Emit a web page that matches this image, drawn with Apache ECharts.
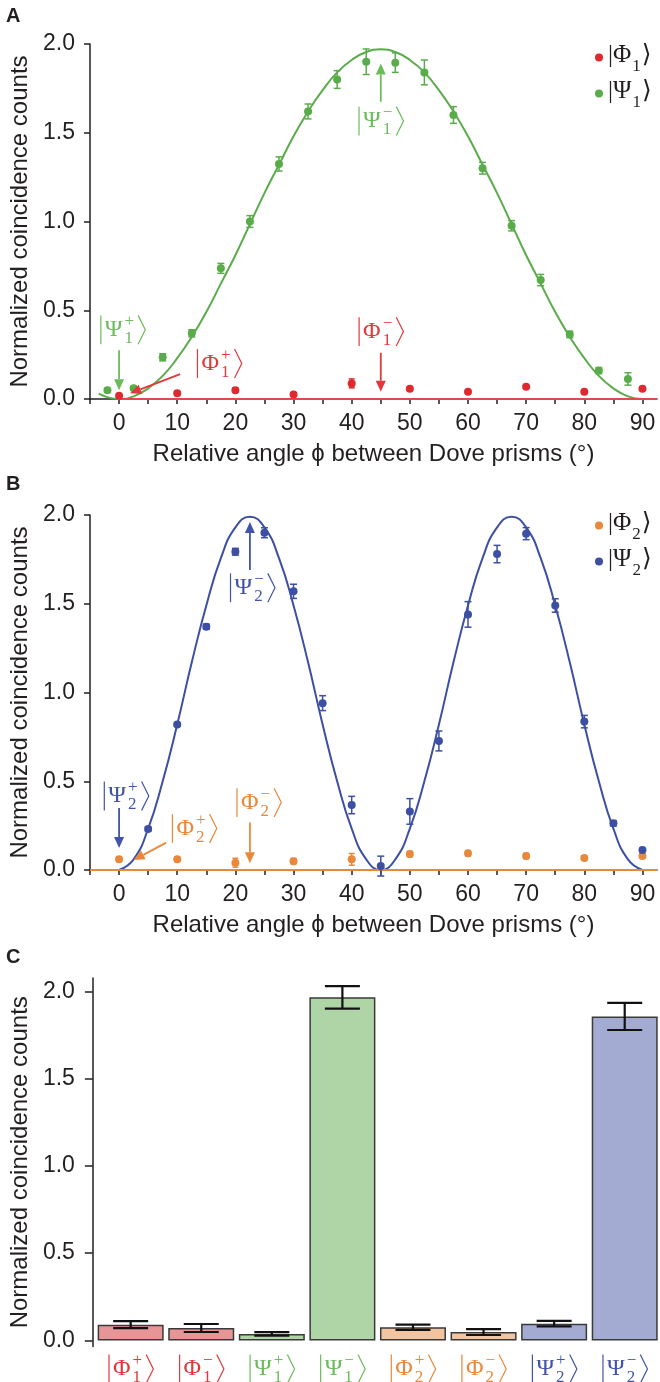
<!DOCTYPE html>
<html>
<head>
<meta charset="utf-8">
<script src="https://cdn.jsdelivr.net/npm/echarts@6/dist/echarts.min.js"></script>
<style>
html, body { margin: 0; padding: 0; background: #fff; }
#chart { width: 660px; height: 1382px; }
</style>
</head>
<body>
<div id="chart"></div>
<script>
// axis ticks
const angleTicks = [-5, 0, 5, 10, 15, 20, 25, 30, 35, 40, 45, 50, 55, 60, 65, 70, 75, 80, 85, 90];
const angleLabels = [0, 10, 20, 30, 40, 50, 60, 70, 80, 90];
const countTicks = [0, 0.5, 1, 1.5, 2];

// panel A
const psi1Angles = [-2, 2.5, 7.5, 12.5, 17.5, 22.5, 27.5, 32.5, 37.5, 42.5, 47.5, 52.5, 57.5, 62.5, 67.5, 72.5, 77.5, 82.5, 87.5];
const psi1Counts = [0.05, 0.06, 0.235, 0.37, 0.736, 1.0, 1.324, 1.62, 1.8, 1.9, 1.895, 1.84, 1.6, 1.3, 0.976, 0.67, 0.364, 0.16, 0.113];
const psi1Errors = [0.01, 0.01, 0.02, 0.02, 0.028, 0.033, 0.04, 0.042, 0.05, 0.072, 0.055, 0.07, 0.047, 0.033, 0.029, 0.032, 0.018, 0.017, 0.035];
const phi1Angles = [0, 10, 20, 30, 40, 50, 60, 70, 80, 90];
const phi1Counts = [0.019, 0.032, 0.05, 0.026, 0.088, 0.058, 0.041, 0.069, 0.041, 0.058];
const phi1Errors = [0.006, 0.008, 0.012, 0.008, 0.025, 0.01, 0.008, 0.008, 0.008, 0.008];
const fit1Angles = [-3.5, 0, 2.5, 5, 7.5, 10, 12.5, 15, 17.5, 20, 22.5, 25, 27.5, 30, 32.5, 35, 37.5, 40, 42.5, 45,
  47.5, 50, 52.5, 55, 57.5, 60, 62.5, 65, 67.5, 70, 72.5, 75, 77.5, 80, 82.5, 85, 87.5, 90];
const fit1Counts = [0.03, 0, 0.015, 0.06, 0.13, 0.23, 0.35, 0.49, 0.65, 0.81, 0.985, 1.16, 1.32, 1.48, 1.62, 1.74, 1.84, 1.91, 1.955, 1.97,
  1.955, 1.91, 1.84, 1.74, 1.62, 1.48, 1.32, 1.16, 0.985, 0.81, 0.65, 0.49, 0.35, 0.23, 0.13, 0.06, 0.015, 0];
const phi1FitAngles = [0, 92.5];
const phi1FitCounts = [0, 0];

// panel B
const psi2Angles = [5, 10, 15, 20, 25, 30, 35, 40, 45, 50, 55, 60, 65, 70, 75, 80, 85, 90];
const psi2Counts = [0.231, 0.82, 1.371, 1.793, 1.9, 1.57, 0.94, 0.366, 0.022, 0.33, 0.727, 1.44, 1.78, 1.895, 1.49, 0.836, 0.263, 0.113];
const psi2Errors = [0.01, 0.01, 0.014, 0.019, 0.028, 0.04, 0.042, 0.049, 0.056, 0.072, 0.056, 0.072, 0.049, 0.034, 0.038, 0.035, 0.015, 0.008];
const phi2Angles = [0, 10, 20, 30, 40, 50, 60, 70, 80, 90];
const phi2Counts = [0.06, 0.06, 0.041, 0.05, 0.06, 0.09, 0.094, 0.079, 0.067, 0.079];
const phi2Errors = [0.012, 0.012, 0.025, 0.015, 0.033, 0.015, 0.015, 0.015, 0.012, 0.012];
const fit2Angles = [0, 2.5, 5, 7.5, 10, 12.5, 15, 17.5, 20, 22.5, 25, 27.5, 30, 32.5, 35, 37.5, 40, 42.5, 45,
  47.5, 50, 52.5, 55, 57.5, 60, 62.5, 65, 67.5, 70, 72.5, 75, 77.5, 80, 82.5, 85, 87.5, 90];
const fit2Counts = [0, 0.06, 0.233, 0.5, 0.82, 1.17, 1.49, 1.757, 1.93, 1.99, 1.93, 1.757, 1.49, 1.17, 0.82, 0.5, 0.233, 0.06, 0,
  0.06, 0.233, 0.5, 0.82, 1.17, 1.49, 1.757, 1.93, 1.99, 1.93, 1.757, 1.49, 1.17, 0.82, 0.5, 0.233, 0.06, 0];
const phi2FitAngles = [-5, 92.5];
const phi2FitCounts = [0, 0];

// panel C
const stateNames = ['Φ1+', 'Φ1−', 'Ψ1+', 'Ψ1−', 'Φ2+', 'Φ2−', 'Ψ2+', 'Ψ2−'];
const stateCounts = [0.09, 0.071, 0.037, 1.966, 0.075, 0.048, 0.096, 1.857];
const stateErrors = [0.02, 0.023, 0.01, 0.064, 0.015, 0.017, 0.016, 0.078];

const RED = '#de2a2e';
const GREEN = '#5aac4a';
const ORANGE = '#e9883a';
const BLUE = '#3d4fa3';
const INK = '#231f20';
const SANS = '"Liberation Sans", Arial, sans-serif';
const SERIF = '"Liberation Serif", "DejaVu Serif", "DejaVu Sans", serif';
const barFill = { '1Φ': '#e89598', '1Ψ': '#afd5a6', '2Φ': '#f2c4a0', '2Ψ': '#a3abd3' };
const stateColor = { '1Φ': '#e0383b', '1Ψ': '#6dbb5c', '2Φ': '#e9883a', '2Ψ': '#4254a8' };

const chart = echarts.init(document.getElementById('chart'));

function zip (xs, ys) {
    return xs.map((x, i) => [x, ys[i]])
}

function errorBars (idx, xs, ys, es, color, capW, lw) {
    return {
        type: 'custom',
        xAxisIndex: idx,
        yAxisIndex: idx,
        silent: true,
        z: 3,
        data: xs.map((x, i) => [x, ys[i] - es[i], ys[i] + es[i]]),
        encode: { x: 0, y: [1, 2] },
        renderItem (params, api) {
            const lo = api.coord([api.value(0), api.value(1)])
            const hi = api.coord([api.value(0), api.value(2)])
            const h = capW / 2
            const st = { stroke: color, lineWidth: lw }
            return {
                type: 'group',
                children: [
                    { type: 'line', shape: { x1: lo[0], y1: lo[1], x2: hi[0], y2: hi[1] }, style: st },
                    { type: 'line', shape: { x1: lo[0] - h, y1: lo[1], x2: lo[0] + h, y2: lo[1] }, style: st },
                    { type: 'line', shape: { x1: hi[0] - h, y1: hi[1], x2: hi[0] + h, y2: hi[1] }, style: st }
                ]
            }
        }
    }
}

function angleAxis (idx) {
    return {
        type: 'value', gridIndex: idx, min: -5, max: 92.5,
        name: 'Relative angle ϕ between Dove prisms (°)',
        nameLocation: 'middle', nameGap: 43,
        nameTextStyle: { fontSize: 24, color: INK, fontFamily: SANS },
        axisLine: { show: true, onZero: false, lineStyle: { color: INK, width: 1.5 } },
        axisTick: { show: true, length: 5, customValues: angleTicks, lineStyle: { color: INK, width: 1.5 } },
        axisLabel: { customValues: angleLabels, fontSize: 23, color: INK, fontFamily: SANS, margin: 13 },
        splitLine: { show: false }
    }
}

function countAxis (idx, extra) {
    return Object.assign({
        type: 'value', gridIndex: idx, min: 0, max: 2,
        name: 'Normalized coincidence counts',
        nameLocation: 'middle', nameGap: 58,
        nameTextStyle: { fontSize: 24, color: INK, fontFamily: SANS },
        axisLine: { show: true, onZero: false, lineStyle: { color: INK, width: 1.5 } },
        axisTick: { show: true, length: 6, customValues: countTicks, lineStyle: { color: INK, width: 1.5 } },
        axisLabel: { customValues: countTicks, formatter: v => v.toFixed(1), fontSize: 23, color: INK, fontFamily: SANS, margin: 15 },
        splitLine: { show: false }
    }, extra || {})
}

function legendFor (names, top) {
    return {
        data: names, orient: 'vertical', left: 590, top: top, itemGap: 4,
        icon: 'circle', itemWidth: 8, itemHeight: 8, selectedMode: false,
        formatter: n => '{m||' + n[0] + '}{s|' + n[1] + '}{m|⟩}',
        textStyle: {
            color: INK,
            rich: {
                m: { fontSize: 25, fontFamily: SERIF, color: INK, lineHeight: 29, verticalAlign: 'top' },
                s: { fontSize: 17, fontFamily: SERIF, color: INK, lineHeight: 16, padding: [15, 1, 0, 1], verticalAlign: 'top' }
            }
        }
    }
}

const option = {
    animation: false,
    backgroundColor: '#fff',
    grid: [
        { left: 82, top: 44, width: 575, height: 355 },
        { left: 82, top: 515, width: 575, height: 355 },
        { left: 86.5, top: 978, width: 575.5, height: 368.5 }
    ],
    legend: [legendFor(['Φ1', 'Ψ1'], 38), legendFor(['Φ2', 'Ψ2'], 506)],
    xAxis: [
        angleAxis(0),
        angleAxis(1),
        {
            type: 'category', gridIndex: 2, data: stateNames,
            axisLine: { show: false }, axisTick: { show: false }, axisLabel: { show: false }
        }
    ],
    yAxis: [
        countAxis(0),
        countAxis(1),
        countAxis(2, {
            min: -0.035, max: 2.077, offset: 2.5,
            axisTick: { show: true, length: 8, customValues: countTicks, lineStyle: { color: INK, width: 1.5 } },
            axisLabel: { customValues: countTicks, formatter: v => v.toFixed(1), fontSize: 23, color: INK, fontFamily: SANS, margin: 18 }
        })
    ],
    series: [
        // panel A
        { type: 'line', xAxisIndex: 0, yAxisIndex: 0, data: zip(fit1Angles, fit1Counts), smooth: true, showSymbol: false,
          lineStyle: { color: GREEN, width: 2 }, z: 2, silent: true },
        { type: 'line', xAxisIndex: 0, yAxisIndex: 0, data: zip(phi1FitAngles, phi1FitCounts), showSymbol: false,
          lineStyle: { color: '#e04a4c', width: 2 }, z: 2, silent: true },
        errorBars(0, phi1Angles, phi1Counts, phi1Errors, RED, 6, 1.5),
        errorBars(0, psi1Angles, psi1Counts, psi1Errors, GREEN, 7, 1.5),
        { name: 'Φ1', type: 'scatter', xAxisIndex: 0, yAxisIndex: 0, data: zip(phi1Angles, phi1Counts), symbolSize: 8,
          itemStyle: { color: RED, opacity: 1 }, z: 4 },
        { name: 'Ψ1', type: 'scatter', xAxisIndex: 0, yAxisIndex: 0, data: zip(psi1Angles, psi1Counts), symbolSize: 8,
          itemStyle: { color: GREEN, opacity: 1 }, z: 4 },
        // panel B
        { type: 'line', xAxisIndex: 1, yAxisIndex: 1, data: zip(fit2Angles, fit2Counts), smooth: true, showSymbol: false,
          lineStyle: { color: BLUE, width: 2 }, z: 2, silent: true },
        { type: 'line', xAxisIndex: 1, yAxisIndex: 1, data: zip(phi2FitAngles, phi2FitCounts), showSymbol: false,
          lineStyle: { color: ORANGE, width: 2 }, z: 2, silent: true },
        errorBars(1, phi2Angles, phi2Counts, phi2Errors, ORANGE, 6, 1.5),
        errorBars(1, psi2Angles, psi2Counts, psi2Errors, BLUE, 7, 1.5),
        { name: 'Φ2', type: 'scatter', xAxisIndex: 1, yAxisIndex: 1, data: zip(phi2Angles, phi2Counts), symbolSize: 8,
          itemStyle: { color: ORANGE, opacity: 1 }, z: 4 },
        { name: 'Ψ2', type: 'scatter', xAxisIndex: 1, yAxisIndex: 1, data: zip(psi2Angles, psi2Counts), symbolSize: 8,
          itemStyle: { color: BLUE, opacity: 1 }, z: 4 },
        // panel C
        {
            type: 'bar', xAxisIndex: 2, yAxisIndex: 2, barWidth: 66,
            data: stateCounts.map((v, i) => ({
                value: v,
                itemStyle: { color: barFill[stateNames[i][1] + stateNames[i][0]], borderColor: '#3a3a3a', borderWidth: 1.5 }
            })),
            z: 2
        },
        errorBars(2, stateNames.map((s, i) => i), stateCounts, stateErrors, '#111', 35, 2.2)
    ]
}
chart.setOption(option)

// ---- annotations (kets + arrows) ----
const mctx = document.createElement('canvas').getContext('2d')
function textW (s, fs) {
    mctx.font = fs + 'px ' + SERIF
    return mctx.measureText(s).width
}

function ket (cx, cy, letter, sub, sup, color, fs) {
    const ss = Math.round(fs * 0.7)
    const wl = textW(letter, fs)
    const ws = Math.max(textW(sub, ss), sup ? textW(sup, ss) : 0)
    const hh = fs * 0.6
    const bw = fs * 0.3
    const total = 5 + wl + 2 + ws + 4 + bw
    const x0 = cx - total / 2
    const xs = x0 + 5 + wl + 2
    const xb = xs + ws + 4
    const st = { stroke: color, lineWidth: 1.2, fill: null }
    const out = [
        { type: 'line', shape: { x1: x0 + 1, y1: cy - hh, x2: x0 + 1, y2: cy + hh }, style: st },
        { type: 'text', x: x0 + 5, y: cy, style: { text: letter, fill: color, fontSize: fs, fontFamily: SERIF, verticalAlign: 'middle', align: 'left' } },
        { type: 'text', x: xs, y: cy + fs * 0.36, style: { text: sub, fill: color, fontSize: ss, fontFamily: SERIF, verticalAlign: 'middle', align: 'left' } },
        { type: 'polyline', shape: { points: [[xb, cy - hh], [xb + bw, cy], [xb, cy + hh]] }, style: st }
    ]
    if (sup) {
        out.push({ type: 'text', x: xs, y: cy - fs * 0.34, style: { text: sup, fill: color, fontSize: ss, fontFamily: SERIF, verticalAlign: 'middle', align: 'left' } })
    }
    return out
}

function arrow (p1, p2, color) {
    const dx = p2[0] - p1[0]
    const dy = p2[1] - p1[1]
    const L = Math.hypot(dx, dy)
    const ux = dx / L
    const uy = dy / L
    const hl = 11
    const hw = 5
    const bx = p2[0] - ux * hl
    const by = p2[1] - uy * hl
    return [
        { type: 'line', shape: { x1: p1[0], y1: p1[1], x2: bx, y2: by }, style: { stroke: color, lineWidth: 1.8 } },
        { type: 'polygon', shape: { points: [p2, [bx - uy * hw, by + ux * hw], [bx + uy * hw, by - ux * hw]] }, style: { fill: color } }
    ]
}

const annotations = [
    { grid: 0, letter: 'Ψ', sub: '1', sup: '−', color: stateColor['1Ψ'], at: [45, 1.566], from: [45, 1.675], to: [45, 1.89] },
    { grid: 0, letter: 'Ψ', sub: '1', sup: '+', color: stateColor['1Ψ'], at: [0.6, 0.39], from: [0, 0.275], to: [0, 0.05] },
    { grid: 0, letter: 'Φ', sub: '1', sup: '+', color: stateColor['1Φ'], at: [17.2, 0.2], from: [10.5, 0.14], to: [1.9, 0.032] },
    { grid: 0, letter: 'Φ', sub: '1', sup: '−', color: stateColor['1Φ'], at: [45, 0.38], from: [45, 0.26], to: [45, 0.041] },
    { grid: 1, letter: 'Ψ', sub: '2', sup: '−', color: stateColor['2Ψ'], at: [22.9, 1.59], from: [22.5, 1.69], to: [22.5, 1.96] },
    { grid: 1, letter: 'Ψ', sub: '2', sup: '+', color: stateColor['2Ψ'], at: [1.2, 0.417], from: [0, 0.349], to: [0, 0.124] },
    { grid: 1, letter: 'Φ', sub: '2', sup: '+', color: stateColor['2Φ'], at: [12.9, 0.234], from: [8.1, 0.154], to: [2.5, 0.056] },
    { grid: 1, letter: 'Φ', sub: '2', sup: '−', color: stateColor['2Φ'], at: [24, 0.38], from: [22.5, 0.267], to: [22.5, 0.038] }
]

const graphics = []
annotations.forEach(a => {
    const c = chart.convertToPixel({ gridIndex: a.grid }, a.at)
    const p1 = chart.convertToPixel({ gridIndex: a.grid }, a.from)
    const p2 = chart.convertToPixel({ gridIndex: a.grid }, a.to)
    graphics.push(...ket(c[0], c[1], a.letter, a.sub, a.sup, a.color, 24))
    graphics.push(...arrow(p1, p2, a.color))
})

stateNames.forEach((s, i) => {
    const c = chart.convertToPixel({ gridIndex: 2 }, [i, 0])
    graphics.push(...ket(c[0], 1369, s[0], s[1], s[2], stateColor[s[1] + s[0]], 24))
})

const panelLabel = (t, y) => ({ type: 'text', x: 6, y: y, style: { text: t, fill: INK, fontSize: 20, fontWeight: 'bold', fontFamily: SANS } })
graphics.push(panelLabel('A', 6), panelLabel('B', 474), panelLabel('C', 947))

chart.setOption({ graphic: graphics.map(g => Object.assign({ z: 100, silent: true }, g)) })
</script>
</body>
</html>
